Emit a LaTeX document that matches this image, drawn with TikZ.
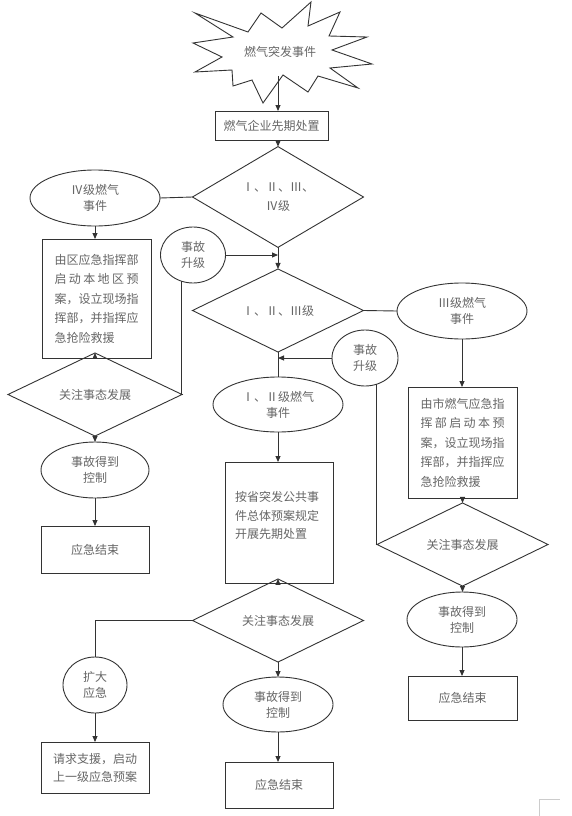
\documentclass[tikz,border=0pt]{standalone}
\usepackage{fontspec}
\newfontfamily\cjk{Noto Sans CJK SC}
\usetikzlibrary{shapes.geometric,arrows.meta,calc}
\newcommand\jline[1]{\makebox[84pt][s]{#1}}
\newcommand\lline[1]{\makebox[84pt][l]{#1}}
\begin{document}
\begin{tikzpicture}[x=1pt,y=-1pt,
  ln/.style={draw=black!80, line width=0.9pt},
  arr/.style={ln, -{Triangle[length=6pt,width=5pt]}},
  base/.style={ln, inner sep=0pt, outer sep=0pt, font=\cjk\fontsize{12}{16}\selectfont, text=black!60, align=center},
  box/.style={base, rectangle},
  ell/.style={base, ellipse},
  dia/.style={base, diamond},
  para/.style={font=\cjk\fontsize{12}{19.5}\selectfont},
  txt/.style={inner sep=0pt, font=\cjk\fontsize{12}{16}\selectfont, text=black!60, align=center}
]
\fill[white] (0,0) rectangle (571,816);
\useasboundingbox (0,0) rectangle (571,816);

% burst
\draw[ln, fill=white] (195,13) -- (248,32) -- (261,13) -- (282,28) -- (311,2) -- (308,26)
  -- (340,12) -- (329,36) -- (367,37) -- (332,50) -- (372,64) -- (330,68) -- (358,88)
  -- (318,76) -- (308,92) -- (283,75) -- (263,103) -- (252,80) -- (233,86) -- (232,70)
  -- (195,72) -- (222,57) -- (193,43) -- (233,37) -- cycle;
\node[txt] (burst) at (280,52) {燃气突发事件};
\coordinate (top) at (278,76);

\node[box, minimum width=113pt, minimum height=29pt] (b1) at (271.5,125.5) {燃气企业先期处置};
\node[dia, minimum width=171pt, minimum height=73pt, font=\cjk\fontsize{12}{19}\selectfont] (d1) at (278,197) {Ⅰ、Ⅱ、Ⅲ、\\Ⅳ级};
\node[ell, minimum width=130pt, minimum height=56pt] (e4) at (95,198) {Ⅳ级燃气\\事件};
\node[box, para, minimum width=109pt, minimum height=119pt] (bL) at (96.5,298.5)
  {\lline{由区应急指挥部}\\\jline{启\hfill 动\hfill 本\hfill 地\hfill 区\hfill 预}\\\lline{案，设立现场指}\\\lline{挥部，并指挥应}\\\lline{急抢险救援}};
\node[ell, minimum width=65pt, minimum height=56pt] (c1) at (193,255) {事故\\升级};
\node[dia, minimum width=171pt, minimum height=55pt] (d2) at (278,310.5) {Ⅰ、Ⅱ、Ⅲ级};
\node[ell, minimum width=130pt, minimum height=56pt] (e3) at (462,311) {Ⅲ级燃气\\事件};
\node[ell, minimum width=66pt, minimum height=56pt] (c2) at (365,358) {事故\\升级};
\node[ell, minimum width=130pt, minimum height=55pt] (e12) at (278,404.5) {Ⅰ、Ⅱ级燃气\\事件};
\node[box, minimum width=108pt, minimum height=121pt] (bC) at (279,522.5) {};
\node[txt, font=\cjk\fontsize{12}{18.5}\selectfont] (bCt) at (277,515.5)
  {\lline{按省突发公共事}\\\lline{件总体预案规定}\\\lline{开展先期处置}};
\node[dia, minimum width=174pt, minimum height=56pt] (dL) at (95,394.5) {关注事态发展};
\node[ell, minimum width=108pt, minimum height=56pt] (eL) at (95,470) {事故得到\\控制};
\node[box, minimum width=108pt, minimum height=47pt] (xL) at (95,549.5) {应急结束};
\node[dia, minimum width=171pt, minimum height=55pt] (d3) at (278,620.5) {关注事态发展};
\node[ell, minimum width=64pt, minimum height=56pt] (k1) at (95,685) {扩大\\应急};
\node[box, minimum width=108pt, minimum height=51pt, font=\cjk\fontsize{12}{18}\selectfont] (req) at (95,767.5) {请求支援，启动\\上一级应急预案};
\node[ell, minimum width=110pt, minimum height=55pt] (eC) at (278,704.5) {事故得到\\控制};
\node[box, minimum width=108pt, minimum height=46pt] (xC) at (279,785) {应急结束};
\node[box, para, minimum width=109pt, minimum height=111pt] (bR) at (462.5,442.5)
  {\lline{由市燃气应急指}\\\jline{挥\hfill 部\hfill 启\hfill 动\hfill 本\hfill 预}\\\lline{案，设立现场指}\\\lline{挥部，并指挥应}\\\lline{急抢险救援}};
\node[dia, minimum width=171pt, minimum height=55pt] (dR) at (462.5,544.5) {关注事态发展};
\node[ell, minimum width=110pt, minimum height=55pt] (eR) at (462,619.5) {事故得到\\控制};
\node[box, minimum width=109pt, minimum height=44pt] (xR) at (462.5,698) {应急结束};

% connectors
\draw[arr] (top) -- (top |- b1.north);
\draw[arr] (b1.south -| d1.north) -- (d1.north);
\draw[ln] (e4.east) -- (d1.west);
\draw[arr] (e4.south) -- (e4.south |- bL.north);
\draw[arr] (bL.south -| dL.north) -- (dL.north);
\draw[arr] (d1.south) -- (d2.north);
\draw[arr] (c1.east) -- (c1.east -| d1.south);
\draw[ln] (c1.247) |- (dL.east);
\draw[ln] (d2.east) -- (e3.west);
\draw[ln] (d2.south) -- (e12.north);
\draw[arr] (c2.west) -- (c2.west -| d2.south);
\draw[ln] (c2.293) |- (dR.west);
\draw[arr] (e3.south) -- (e3.south |- bR.north);
\draw[arr] (bR.south -| dR.north) -- (dR.north);
\draw[arr] (dR.south) -- (dR.south |- eR.north);
\draw[arr] (eR.south) -- (eR.south |- xR.north);
\draw[arr] (e12.south) -- (e12.south |- bC.north);
\draw[arr] (bC.south -| d3.north) -- (d3.north);
\draw[ln] (d3.west) -| (k1.north);
\draw[arr] (k1.south) -- (k1.south |- req.north);
\draw[arr] (d3.south) -- (eC.north);
\draw[arr] (eC.south) -- (eC.south |- xC.north);
\draw[arr] (dL.south) -- (eL.north);
\draw[arr] (eL.south) -- (xL.north);

% page corner mark
\draw[black!20, line width=0.8pt] (539,816) -- (539,799) -- (560,799);
\end{tikzpicture}
\end{document}
